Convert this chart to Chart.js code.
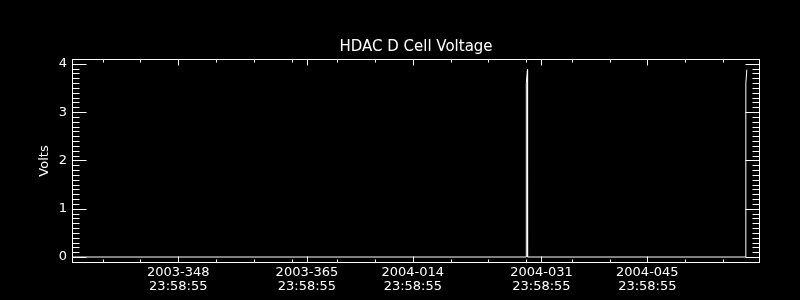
<!DOCTYPE html>
<html>
<head>
<title>HDAC D Cell Voltage</title>
<script src="https://cdn.jsdelivr.net/npm/chart.js"></script>
<style>
  body { margin: 0; background: #000; }
</style>
</head>
<body>
<canvas id="myChart" width="800" height="300"></canvas>
<script>
// x is day count from 2003-001 (so 2004-014 is day 379)
const days  = [333.95, 393.98, 394.0, 394.15, 394.17, 423.0, 423.02, 423.15];
const volts = [0, 0, 3.6, 3.88, 0, 0, 3.6, 3.88];

const xMajor = [348, 365, 379, 396, 410];
const xLabels = ['2003-348', '2003-365', '2004-014', '2004-031', '2004-045'];
const timeLabel = '23:58:55';
const xMinor = [338, 343, 353, 358, 363, 369, 374, 384, 389, 394, 400, 405, 415, 420];
const yMajor = [0, 1, 2, 3, 4];
const chartTitle = 'HDAC D Cell Voltage';

const points = days.map((d, i) => ({ x: d, y: volts[i] }));

function seg(ctx, x1, y1, x2, y2) {
    ctx.beginPath();
    ctx.moveTo(x1, y1);
    ctx.lineTo(x2, y2);
    ctx.stroke();
}

// IDL style box with inward ticks on all four sides, title centred over the plot box
const frame = {
    id: 'frame',
    afterDraw(chart) {
        const { ctx, chartArea: a, scales: { x, y } } = chart;
        const L = a.left + 0.5, R = a.right - 0.5, T = a.top + 0.5, B = a.bottom - 0.5;
        ctx.save();
        ctx.strokeStyle = '#fff';
        ctx.fillStyle = '#fff';
        ctx.lineWidth = 1;
        ctx.strokeRect(L, T, R - L, B - T);

        const xTick = (v, len) => {
            const px = Math.round(x.getPixelForValue(v)) + 0.5;
            seg(ctx, px, B, px, B - len);
            seg(ctx, px, T, px, T + len);
        };
        xMajor.forEach(v => xTick(v, 6));
        xMinor.forEach(v => xTick(v, 3));

        const yTick = (v, len) => {
            const py = Math.round(y.getPixelForValue(v)) + 0.5;
            seg(ctx, L, py, L + len, py);
            seg(ctx, R, py, R - len, py);
        };
        yMajor.forEach(v => yTick(v, 14));
        for (let i = 1; i < 40; i++) {
            if (i % 10 !== 0) yTick(i / 10, 7);
        }

        ctx.font = '15px "DejaVu Sans"';
        ctx.textAlign = 'center';
        ctx.textBaseline = 'middle';
        ctx.fillText(chartTitle, (a.left + a.right) / 2, 47);
        ctx.restore();
    }
};

const ctx = document.getElementById('myChart').getContext('2d');
const myChart = new Chart(ctx, {
    type: 'line',
    data: {
        datasets: [{
            data: points,
            borderColor: '#fff',
            borderWidth: 1,
            pointRadius: 0,
            tension: 0
        }]
    },
    options: {
        responsive: false,
        animation: false,
        layout: { padding: { top: 59, right: 40 } },
        plugins: {
            legend: { display: false },
            tooltip: { enabled: false },
            title: { display: false }
        },
        scales: {
            x: {
                type: 'linear',
                min: 333.95,
                max: 424.89,
                afterFit: s => { s.height = 37; },
                afterBuildTicks: s => { s.ticks = xMajor.map(v => ({ value: v })); },
                grid: { display: false, drawTicks: false },
                border: { display: false },
                ticks: {
                    color: '#fff',
                    padding: 3,
                    autoSkip: false,
                    maxRotation: 0,
                    font: { family: 'DejaVu Sans', size: 13, lineHeight: '14px' },
                    callback: v => [xLabels[xMajor.indexOf(v)], timeLabel]
                }
            },
            y: {
                min: -0.124,
                max: 4.1,
                afterFit: s => { s.width = 72; },
                afterBuildTicks: s => { s.ticks = yMajor.map(v => ({ value: v })); },
                grid: { display: false, drawTicks: false },
                border: { display: false },
                ticks: {
                    color: '#fff',
                    padding: 5,
                    font: { family: 'DejaVu Sans', size: 13 }
                },
                title: {
                    display: true,
                    text: 'Volts',
                    color: '#fff',
                    padding: { top: 37 },
                    font: { family: 'DejaVu Sans', size: 13 }
                }
            }
        }
    },
    plugins: [frame]
});
</script>
</body>
</html>
